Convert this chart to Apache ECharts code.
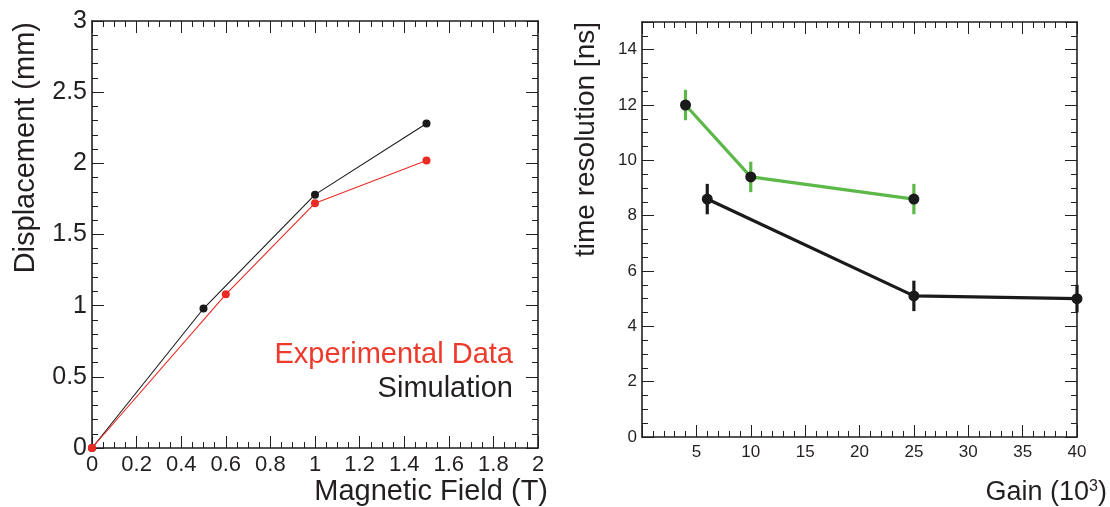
<!DOCTYPE html>
<html>
<head>
<meta charset="utf-8">
<script src="https://cdn.jsdelivr.net/npm/echarts@6/dist/echarts.min.js"></script>
<style>
html,body{margin:0;padding:0;background:#fff;}
#chart{width:1110px;height:507px;}
</style>
</head>
<body>
<div id="chart"></div>
<script>
// Left panel: displacement vs magnetic field
const fieldSim = [0, 0.5, 1, 1.5];
const dispSim  = [0, 0.98, 1.78, 2.28];
const fieldExp = [0, 0.6, 1, 1.5];
const dispExp  = [0, 1.08, 1.72, 2.02];

// Right panel: time resolution vs gain
const gainGreen = [4, 10, 25];
const resGreen  = [12.0, 9.4, 8.6];
const errGreen  = [0.55, 0.55, 0.55];
const gainBlack = [6, 25, 40];
const resBlack  = [8.6, 5.1, 5.0];
const errBlack  = [0.55, 0.55, 0.5];

const FONT = '"Liberation Sans", Arial, Helvetica, sans-serif';
const INK = '#231f20';
const RED = '#ec2a24';
const GREEN = '#5cb848';

function pairs(xs, ys){ return xs.map((x,i)=>[x, ys[i]]); }
function triples(xs, ys, es){ return xs.map((x,i)=>[x, ys[i], es[i]]); }

function axisBase(extra){
  return Object.assign({
    type:'value',
    axisLine:{show:true, onZero:false, lineStyle:{color:INK, width:1.6}},
    splitLine:{show:false},
    axisTick:{show:true, inside:true, length:12, lineStyle:{color:INK, width:1}},
    minorTick:{show:true, length:6, lineStyle:{color:INK, width:1}},
    minorSplitLine:{show:false}
  }, extra);
}

function errRender(color){
  return function(params, api){
    const x = api.value(0), y = api.value(1), e = api.value(2);
    const p1 = api.coord([x, y - e]);
    const p2 = api.coord([x, y + e]);
    return {
      type:'line',
      shape:{x1:p1[0], y1:p1[1], x2:p2[0], y2:p2[1]},
      style:{stroke:color, lineWidth:3.2}
    };
  };
}

const chart = echarts.init(document.getElementById('chart'), null, {renderer:'canvas'});

const option = {
  backgroundColor:'#fff',
  animation:false,
  grid:[
    {left:92, top:21, width:446, height:427, containLabel:false},
    {left:642, top:22, width:435, height:415, containLabel:false}
  ],
  xAxis:[
    axisBase({gridIndex:0, position:'bottom', min:0, max:2, interval:0.2,
      minorTick:{show:true, splitNumber:4, length:6, lineStyle:{color:INK, width:1}},
      axisLabel:{color:INK, fontFamily:FONT, fontSize:22, margin:6}}),
    axisBase({gridIndex:0, position:'top', min:0, max:2, interval:0.2,
      minorTick:{show:true, splitNumber:4, length:6, lineStyle:{color:INK, width:1}},
      axisLabel:{show:false}}),
    axisBase({gridIndex:1, position:'bottom', min:0, max:40, interval:5,
      minorTick:{show:true, splitNumber:5, length:6, lineStyle:{color:INK, width:1}},
      axisLabel:{color:INK, fontFamily:FONT, fontSize:17, margin:7,
        formatter:function(v){ return v === 0 ? '' : String(v); }}}),
    axisBase({gridIndex:1, position:'top', min:0, max:40, interval:5,
      minorTick:{show:true, splitNumber:5, length:6, lineStyle:{color:INK, width:1}},
      axisLabel:{show:false}})
  ],
  yAxis:[
    axisBase({gridIndex:0, position:'left', min:0, max:3, interval:0.5,
      minorTick:{show:true, splitNumber:5, length:6, lineStyle:{color:INK, width:1}},
      axisLabel:{color:INK, fontFamily:FONT, fontSize:25, margin:5}}),
    axisBase({gridIndex:0, position:'right', min:0, max:3, interval:0.5,
      minorTick:{show:true, splitNumber:5, length:6, lineStyle:{color:INK, width:1}},
      axisLabel:{show:false}}),
    axisBase({gridIndex:1, position:'left', min:0, max:15, interval:2,
      minorTick:{show:true, splitNumber:4, length:6, lineStyle:{color:INK, width:1}},
      axisLabel:{color:INK, fontFamily:FONT, fontSize:17, margin:5,
        formatter:function(v){ return (v % 2 === 0) ? String(v) : ''; }}}),
    axisBase({gridIndex:1, position:'right', min:0, max:15, interval:2,
      minorTick:{show:true, splitNumber:4, length:6, lineStyle:{color:INK, width:1}},
      axisLabel:{show:false}})
  ],
  series:[
    {type:'line', name:'Simulation', xAxisIndex:0, yAxisIndex:0,
      data:pairs(fieldSim, dispSim), symbol:'circle', symbolSize:8,
      lineStyle:{color:'#1a1a1a', width:1.1}, itemStyle:{color:'#1a1a1a', borderWidth:0}, z:3},
    {type:'line', name:'Experimental Data', xAxisIndex:0, yAxisIndex:0,
      data:pairs(fieldExp, dispExp), symbol:'circle', symbolSize:8,
      lineStyle:{color:RED, width:1.1}, itemStyle:{color:RED, borderWidth:0}, z:4},
    {type:'line', xAxisIndex:2, yAxisIndex:2,
      data:pairs(gainGreen, resGreen), symbol:'none',
      lineStyle:{color:GREEN, width:3.2}, z:3},
    {type:'custom', xAxisIndex:2, yAxisIndex:2,
      data:triples(gainGreen, resGreen, errGreen), renderItem:errRender(GREEN), z:4},
    {type:'scatter', xAxisIndex:2, yAxisIndex:2,
      data:pairs(gainGreen, resGreen), symbol:'circle', symbolSize:11,
      itemStyle:{color:'#1a1a1a', opacity:1}, z:6},
    {type:'line', xAxisIndex:2, yAxisIndex:2,
      data:pairs(gainBlack, resBlack), symbol:'none',
      lineStyle:{color:'#1a1a1a', width:3.2}, z:3},
    {type:'custom', xAxisIndex:2, yAxisIndex:2,
      data:triples(gainBlack, resBlack, errBlack), renderItem:errRender('#1a1a1a'), z:4},
    {type:'scatter', xAxisIndex:2, yAxisIndex:2,
      data:pairs(gainBlack, resBlack), symbol:'circle', symbolSize:11,
      itemStyle:{color:'#1a1a1a', opacity:1}, z:6}
  ],
  graphic:[
    {type:'text', x:26, y:22, rotation:Math.PI/2,
      style:{text:'Displacement (mm)', fill:INK, font:'29px '+FONT, textAlign:'right', textVerticalAlign:'middle'}},
    {type:'text', x:548, y:492,
      style:{text:'Magnetic Field (T)', fill:INK, font:'29px '+FONT, textAlign:'right', textVerticalAlign:'middle'}},
    {type:'text', x:513, y:355,
      style:{text:'Experimental Data', fill:'#ee3a2c', font:'29px '+FONT, textAlign:'right', textVerticalAlign:'middle'}},
    {type:'text', x:513, y:389,
      style:{text:'Simulation', fill:INK, font:'29px '+FONT, textAlign:'right', textVerticalAlign:'middle'}},
    {type:'text', x:586, y:22, rotation:Math.PI/2,
      style:{text:'time resolution [ns]', fill:INK, font:'28px '+FONT, textAlign:'right', textVerticalAlign:'middle'}},
    {type:'text', x:1107, y:493,
      style:{text:'{a|Gain (10}{s|3}{a|)}', align:'right', verticalAlign:'middle',
        rich:{a:{fontFamily:FONT, fontSize:27, fill:INK, color:INK},
              s:{fontFamily:FONT, fontSize:16, color:INK, fill:INK, verticalAlign:'top', padding:[0,0,12,0]}},
        textAlign:'right', textVerticalAlign:'middle'}}
  ]
};
chart.setOption(option);
</script>
</body>
</html>
